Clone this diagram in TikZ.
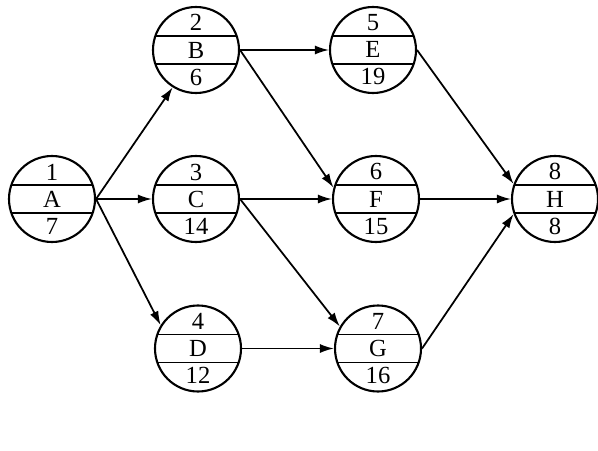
\documentclass[tikz,border=0pt]{standalone}
\usepackage{fontspec}
\setmainfont{Liberation Serif}
\usetikzlibrary{arrows.meta}

\begin{document}
\begin{tikzpicture}[
  act/.style={circle, draw, line width=1.2pt, minimum size=1.72cm, inner sep=0pt,
    align=center, font=\fontsize{14}{15.4}\selectfont,
    path picture={
      \draw[line width=1.1pt] ([yshift=2.8mm]path picture bounding box.west)
        -- ([yshift=2.8mm]path picture bounding box.east);
      \draw[line width=1.1pt] ([yshift=-2.8mm]path picture bounding box.west)
        -- ([yshift=-2.8mm]path picture bounding box.east);
    }},
  arr/.style={-{Latex[length=2.8mm,width=1.8mm]}, line width=1pt}
]
\useasboundingbox (0,0) rectangle (11.96,9);

\node[act] (A) at (1.04,5.02)  {1\\A\\7};
\node[act] (B) at (3.92,8.0)   {2\\B\\6};
\node[act] (C) at (3.92,5.02)  {3\\C\\14};
\node[act] (D) at (3.96,2.03)  {4\\D\\12};
\node[act] (E) at (7.46,8.0)   {5\\E\\19};
\node[act] (F) at (7.52,5.02)  {6\\F\\15};
\node[act] (G) at (7.56,2.03)  {7\\G\\16};
\node[act] (H) at (11.1,5.02)  {8\\H\\8};

\draw[arr] (A.east) -- (B.238);
\draw[arr] (A.east) -- (C);
\draw[arr] (A.east) -- (D.148);
\draw[arr] (B.east) -- (E);
\draw[arr] (B.east) -- (F.165);
\draw[arr] (C.east) -- (F);
\draw[arr] (C.east) -- (G.150);
\draw[arr] (D.east) -- (G);
\draw[arr] (E.east) -- (H.160);
\draw[arr] (F.east) -- (H);
\draw[arr] (G.east) -- (H.200);
\end{tikzpicture}
\end{document}
